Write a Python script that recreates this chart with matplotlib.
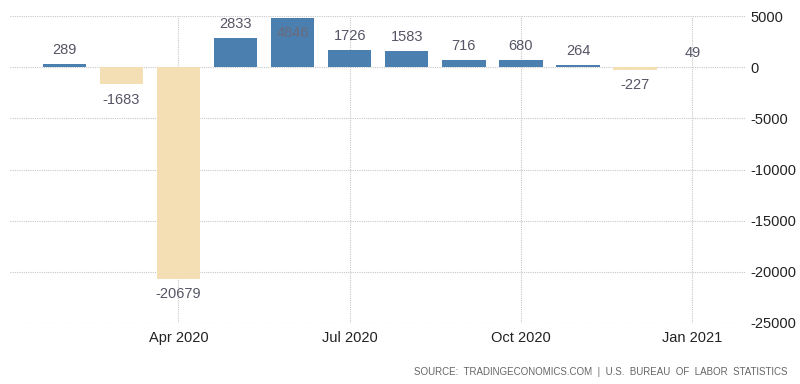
import matplotlib
matplotlib.use("Agg")
import matplotlib.pyplot as plt
import numpy as np

plt.rcParams['font.family'] = ['Liberation Sans Narrow', 'Liberation Sans', 'DejaVu Sans']

# monthly change, Feb 2020 - Jan 2021
months = ["Feb 2020", "Mar 2020", "Apr 2020", "May 2020", "Jun 2020", "Jul 2020",
          "Aug 2020", "Sep 2020", "Oct 2020", "Nov 2020", "Dec 2020", "Jan 2021"]
values = [289, -1683, -20679, 2833, 4846, 1726, 1583, 716, 680, 264, -227, 49]
tick_months = ["Apr 2020", "Jul 2020", "Oct 2020", "Jan 2021"]
y_ticks = [5000, 0, -5000, -10000, -15000, -20000, -25000]

blue = "#4a7fb0"
tan = "#f3dfb3"

fig = plt.figure(figsize=(8, 3.84), dpi=100)
ax = fig.add_axes([0.0125, 0.159, 0.9185, 0.799])

x = np.arange(len(values))
colors = [blue if v >= 0 else tan for v in values]
ax.bar(x, values, width=0.76, color=colors, zorder=2)

for i, v in enumerate(values):
    if v > 4000:
        # no room above, put it inside the bar
        ax.annotate(str(v), (i, v), xytext=(0, -11), textcoords="offset points",
                    ha="center", va="center", fontsize=10.5, color="#6b6b7a", zorder=3)
    elif v >= 0:
        ax.annotate(str(v), (i, v), xytext=(0, 10), textcoords="offset points",
                    ha="center", va="center", fontsize=10.5, color="#555566")
    else:
        ax.annotate(str(v), (i, v), xytext=(0, -11), textcoords="offset points",
                    ha="center", va="center", fontsize=10.5, color="#555566")

ax.set_xlim(-0.95, 11.92)
ax.set_ylim(-25000, 5000)

ax.set_xticks([months.index(m) for m in tick_months])
ax.set_xticklabels(tick_months, fontsize=10.5, color="#222222")
ax.set_yticks(y_ticks)
ax.set_yticklabels([str(t) for t in y_ticks], fontsize=10.5, color="#222222")
ax.yaxis.tick_right()
ax.tick_params(axis="both", length=0)
ax.tick_params(axis="y", pad=4)
ax.tick_params(axis="x", pad=6)

ax.grid(True, color="#c8c8c8", linestyle=(0, (1, 1)), linewidth=0.8, zorder=0)
ax.set_axisbelow(True)
for s in ax.spines.values():
    s.set_visible(False)

fig.text(0.985, 0.032, "SOURCE:  TRADINGECONOMICS.COM  |  U.S.  BUREAU  OF  LABOR  STATISTICS",
         ha="right", va="center", fontsize=7, color="#666666")

fig.savefig("out.png", dpi=100)
